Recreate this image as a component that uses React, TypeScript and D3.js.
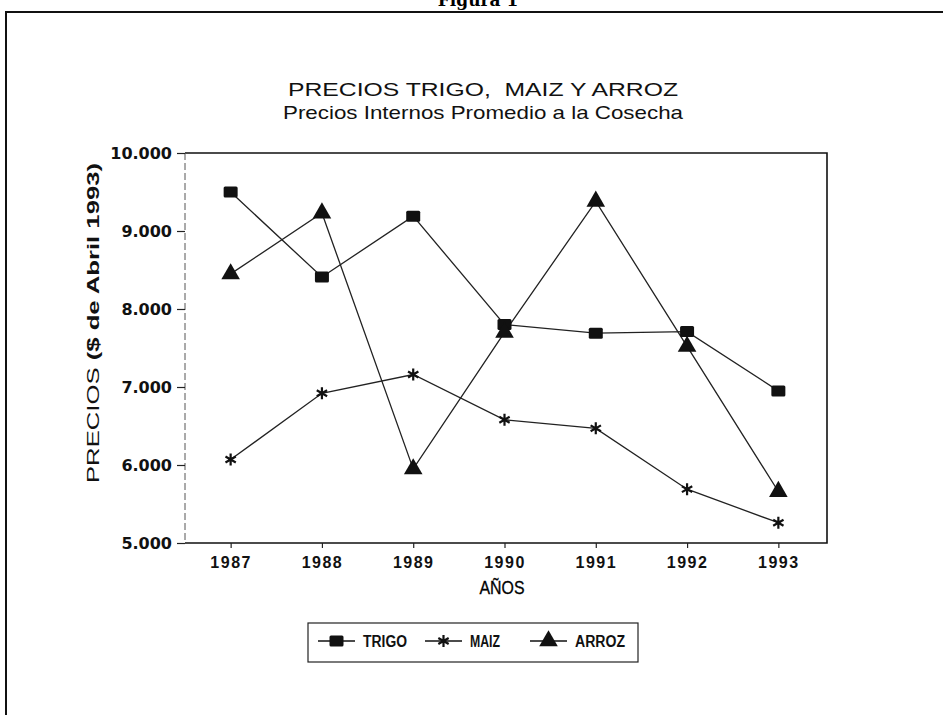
import React, { useRef, useEffect } from "react";
import * as d3 from "d3";

// data
const years = ["1987", "1988", "1989", "1990", "1991", "1992", "1993"];
const trigo = [9500, 8410, 9190, 7800, 7690, 7710, 6950];
const maiz = [6070, 6920, 7160, 6580, 6470, 5690, 5260];
const arroz = [8450, 9230, 5950, 7700, 9380, 7520, 5660];
const yTicks = [5000, 6000, 7000, 8000, 9000, 10000];

const seriesNames = ["TRIGO", "MAIZ", "ARROZ"];

const W = 943;
const H = 715;

export default function App() {
  const svgRef = useRef<SVGSVGElement>(null);

  useEffect(() => {
    if (!svgRef.current) return;
    const svg = d3.select(svgRef.current);
    svg.selectAll("*").remove();

    const left = 185;
    const right = 827;
    const top = 153;
    const bottom = 543;

    const x = d3.scalePoint<string>().domain(years).range([left, right - 3]).padding(0.5);
    const y = d3.scaleLinear().domain([5000, 10000]).range([bottom, top]);

    const es = d3.formatLocale({
      decimal: ",",
      thousands: ".",
      grouping: [3],
      currency: ["$", ""],
    });
    const fmt = es.format(",d");

    // outer frame of the page figure
    svg
      .append("text")
      .attr("x", 478)
      .attr("y", 6)
      .attr("text-anchor", "middle")
      .attr("font-family", "'DejaVu Serif', serif")
      .attr("font-weight", "bold")
      .attr("font-size", 17)
      .text("Figura 1");
    svg
      .append("path")
      .attr("d", `M6,${H + 2} L6,12 L${W + 2},12`)
      .attr("fill", "none")
      .attr("stroke", "#111")
      .attr("stroke-width", 2);

    // titles
    svg
      .append("text")
      .attr("x", 483)
      .attr("y", 96)
      .attr("text-anchor", "middle")
      .attr("font-family", "'Liberation Sans', Arial, sans-serif")
      .attr("font-size", 19)
      .attr("textLength", 390)
      .attr("lengthAdjust", "spacingAndGlyphs")
      .attr("fill", "#111")
      .style("white-space", "pre")
      .text("PRECIOS TRIGO,  MAIZ Y ARROZ");
    svg
      .append("text")
      .attr("x", 483)
      .attr("y", 119)
      .attr("text-anchor", "middle")
      .attr("font-family", "'Liberation Sans', Arial, sans-serif")
      .attr("font-size", 19)
      .attr("textLength", 400)
      .attr("lengthAdjust", "spacingAndGlyphs")
      .attr("fill", "#111")
      .text("Precios Internos Promedio a la Cosecha");

    const g = svg.append("g");

    // plot box
    g.append("path")
      .attr("d", `M${left},${top} L${right},${top} L${right},${bottom} L${left},${bottom}`)
      .attr("fill", "none")
      .attr("stroke", "#111")
      .attr("stroke-width", 1.6);
    g.append("line")
      .attr("x1", left)
      .attr("x2", left)
      .attr("y1", top)
      .attr("y2", bottom)
      .attr("stroke", "#555")
      .attr("stroke-width", 1)
      .attr("stroke-dasharray", "7,3");

    // y axis
    const yAxis = g
      .append("g")
      .attr("transform", `translate(${left},0)`)
      .call(d3.axisLeft(y).tickValues(yTicks).tickSize(8).tickPadding(5).tickFormat((d) => fmt(+d)));
    yAxis.select(".domain").remove();
    yAxis.selectAll("line").attr("stroke", "#222").attr("stroke-width", 1.2);
    yAxis
      .selectAll("text")
      .attr("font-family", "'DejaVu Sans', sans-serif")
      .attr("font-weight", "bold")
      .attr("font-size", 16)
      .attr("fill", "#111");

    // x axis
    const xAxis = g
      .append("g")
      .attr("transform", `translate(0,${bottom})`)
      .call(d3.axisBottom(x).tickSize(5).tickPadding(9));
    xAxis.select(".domain").remove();
    xAxis.selectAll("line").attr("stroke", "#222").attr("stroke-width", 1.2);
    xAxis
      .selectAll("text")
      .attr("font-family", "'Liberation Sans', Arial, sans-serif")
      .attr("font-weight", "bold")
      .attr("font-size", 16)
      .attr("letter-spacing", 1.5)
      .attr("fill", "#111");

    // axis titles
    svg
      .append("text")
      .attr("x", 502)
      .attr("y", 594)
      .attr("text-anchor", "middle")
      .attr("font-family", "'Liberation Sans', Arial, sans-serif")
      .attr("font-size", 18)
      .attr("textLength", 45)
      .attr("lengthAdjust", "spacingAndGlyphs")
      .attr("fill", "#000")
      .attr("stroke", "#000")
      .attr("stroke-width", 0.3)
      .text("AÑOS");

    const yt = svg
      .append("text")
      .attr("transform", `translate(99,323) rotate(-90)`)
      .attr("text-anchor", "middle")
      .attr("font-family", "'Liberation Sans', Arial, sans-serif")
      .attr("font-size", 16)
      .attr("textLength", 320)
      .attr("lengthAdjust", "spacingAndGlyphs")
      .attr("fill", "#111");
    yt.append("tspan").text("PRECIOS ");
    yt.append("tspan").attr("font-weight", "bold").text("($ de Abril 1993)");

    // lines and markers
    const allSeries = [trigo, maiz, arroz];
    const line = d3
      .line<number>()
      .x((_, i) => x(years[i])!)
      .y((d) => y(d));

    const sqr = (sel: any) =>
      sel
        .append("rect")
        .attr("x", -7)
        .attr("y", -5.5)
        .attr("width", 14)
        .attr("height", 11)
        .attr("rx", 1.5)
        .attr("fill", "#111");
    const star = (sel: any) =>
      sel
        .append("path")
        .attr("d", d3.symbol().type(d3.symbolAsterisk).size(100)()!)
        .attr("fill", "none")
        .attr("stroke", "#111")
        .attr("stroke-width", 2.2);
    const tri = (sel: any) =>
      sel
        .append("path")
        .attr("d", d3.symbol().type(d3.symbolTriangle).size(150)()!)
        .attr("fill", "#111");
    const markers = [sqr, star, tri];

    allSeries.forEach((vals) => {
      g.append("path")
        .attr("d", line(vals)!)
        .attr("fill", "none")
        .attr("stroke", "#222")
        .attr("stroke-width", 1.3);
    });
    allSeries.forEach((vals, si) => {
      vals.forEach((v, i) => {
        const m = g.append("g").attr("transform", `translate(${x(years[i])},${y(v)})`);
        markers[si](m);
      });
    });

    // legend
    const lg = svg.append("g");
    lg.append("rect")
      .attr("x", 308)
      .attr("y", 623)
      .attr("width", 330)
      .attr("height", 39)
      .attr("fill", "none")
      .attr("stroke", "#222")
      .attr("stroke-width", 1.2);
    const legendX = [318, 425, 530];
    const legendW = [44, 30, 50];
    seriesNames.forEach((name, i) => {
      const lx = legendX[i];
      lg.append("line")
        .attr("x1", lx)
        .attr("x2", lx + 37)
        .attr("y1", 641)
        .attr("y2", 641)
        .attr("stroke", "#111")
        .attr("stroke-width", 1.5);
      const m = lg.append("g").attr("transform", `translate(${lx + 18.5},641)`);
      markers[i](m);
      lg.append("text")
        .attr("x", lx + 45)
        .attr("y", 647)
        .attr("font-family", "'Liberation Sans', Arial, sans-serif")
        .attr("font-weight", "bold")
        .attr("font-size", 16)
        .attr("textLength", legendW[i])
        .attr("lengthAdjust", "spacingAndGlyphs")
        .attr("fill", "#111")
        .text(name);
    });
  }, []);

  return (
    <svg
      ref={svgRef}
      width={W}
      height={H}
      style={{ position: "absolute", left: 0, top: 0, background: "#fff" }}
    ></svg>
  );
}
